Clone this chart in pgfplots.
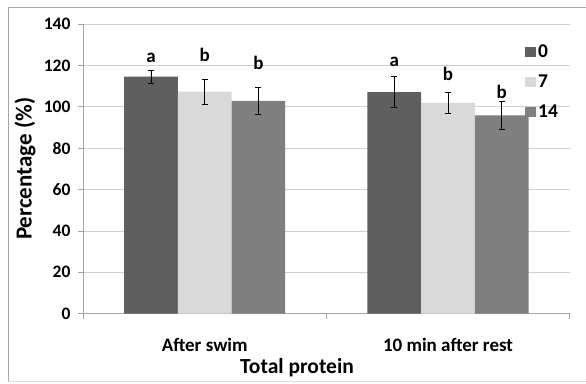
\documentclass[border=0pt]{standalone}
\usepackage{pgfplots}
\pgfplotsset{compat=1.18}
\usepackage{fontspec}
\setmainfont{Carlito}
\definecolor{cdark}{HTML}{5F5F5F}
\definecolor{clight}{HTML}{D9D9D9}
\definecolor{cmed}{HTML}{7F7F7F}
\definecolor{cgrid}{HTML}{D0D0D0}
\definecolor{caxis}{HTML}{A6A6A6}
\begin{document}
\begin{tikzpicture}
\useasboundingbox (-83pt,-69.3pt) rectangle (503pt,313.7pt);
\draw[caxis, line width=0.8pt] (-75pt,-68pt) -- (-75pt,306.7pt) -- (503pt,306.7pt);
\draw[cgrid!70, line width=1pt] (-75pt,-67.5pt) -- (503pt,-67.5pt);
\begin{axis}[
  at={(0pt,0pt)}, anchor=south west,
  scale only axis, width=486.7pt, height=289.7pt,
  xmin=-0.5, xmax=1.5, ymin=0, ymax=140,
  ybar=0pt, bar width=53.7pt,
  axis x line=bottom, axis y line=left,
  axis line style={caxis, line width=0.8pt, -},
  xtick={0,1}, xticklabels={After swim, 10 min after rest},
  major x tick style={draw=none},
  minor xtick={-0.5,0.5,1.5},
  minor tick length=5pt,
  minor x tick style={caxis, line width=0.8pt},
  ytick={0,20,...,140},
  major tick length=5pt,
  tick align=outside,
  ytick style={caxis, line width=0.8pt},
  ymajorgrids, grid style={cgrid, line width=0.8pt},
  /pgf/number format/assume math mode=true,
  tick label style={black},
  yticklabel style={font=\fontsize{17.5}{19}\selectfont\bfseries, xshift=-4pt},
  xticklabel style={font=\fontsize{19}{21}\selectfont\bfseries, anchor=center, yshift=-26pt},
  ylabel={Percentage (\%)},
  xlabel={Total protein},
  ylabel style={font=\fontsize{23}{25}\selectfont\bfseries, at={(axis description cs:-0.1192,0.5)}, anchor=center},
  xlabel style={font=\fontsize{21.5}{23}\selectfont\bfseries, at={(axis description cs:0.4397,-0.186)}, anchor=center},
  error bars/error bar style={black, line width=0.8pt},
  error bars/error mark options={rotate=90, mark size=3pt, line width=0.8pt},
  legend style={at={(rel axis cs:0.908,0.937)}, anchor=north west, draw=none, fill=none,
    font=\fontsize{19.5}{21}\selectfont\bfseries, row sep=12pt, inner sep=0pt,
    /tikz/every even column/.append style={column sep=3pt}},
  legend image code/.code={\fill[#1] (0pt,-5pt) rectangle (11pt,5pt);},
  legend cell align=left,
  clip=false,
]
\addplot[fill=cdark, draw=none, error bars/.cd, y dir=both, y explicit]
  coordinates {(0,114.6) +- (0,3.2) (1,107.1) +- (0,7.5)};
\addplot[fill=clight, draw=none, error bars/.cd, y dir=both, y explicit]
  coordinates {(0,107.3) +- (0,6.0) (1,101.9) +- (0,5.2)};
\addplot[fill=cmed, draw=none, error bars/.cd, y dir=both, y explicit]
  coordinates {(0,102.9) +- (0,6.5) (1,95.8) +- (0,6.6)};
\legend{0,7,14}
\begin{scope}[every node/.style={font=\fontsize{19}{21}\selectfont\bfseries, anchor=base}]
\node at (axis cs:-0.2207,121.5) {a};
\node at (axis cs:0,122.1) {b};
\node at (axis cs:0.2207,117.8) {b};
\node at (axis cs:0.7793,119.4) {a};
\node at (axis cs:1,112.6) {b};
\node at (axis cs:1.2207,103.8) {b};
\end{scope}
\end{axis}
\end{tikzpicture}
\end{document}
